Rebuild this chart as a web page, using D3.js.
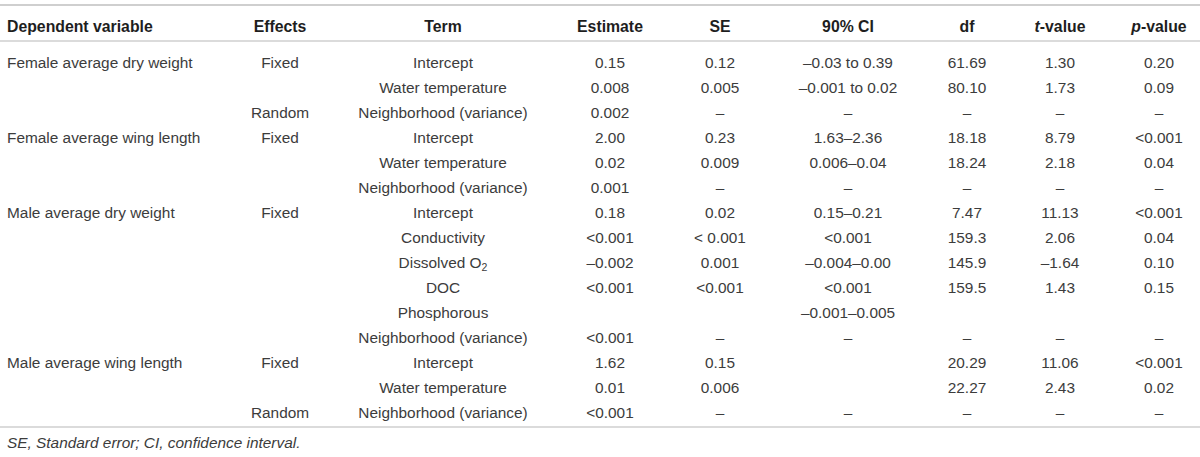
<!DOCTYPE html>
<html>
<head>
<meta charset="utf-8">
<script src="https://cdn.jsdelivr.net/npm/d3@7"></script>
<style>
  html, body { margin: 0; padding: 0; background: #fff; }
  svg { display: block; }
</style>
</head>
<body>
<svg id="chart" width="1200" height="457"></svg>
<script>
// ---- Data ----
const columns = ["Dependent variable", "Effects", "Term", "Estimate", "SE", "90% CI", "df", "t-value", "p-value"];
const dependentVariable = ["Female average dry weight", "", "", "Female average wing length", "", "", "Male average dry weight", "", "", "", "", "", "Male average wing length", "", ""];
const effects = ["Fixed", "", "Random", "Fixed", "", "", "Fixed", "", "", "", "", "", "Fixed", "", "Random"];
const terms = ["Intercept", "Water temperature", "Neighborhood (variance)", "Intercept", "Water temperature", "Neighborhood (variance)", "Intercept", "Conductivity", "Dissolved O2", "DOC", "Phosphorous", "Neighborhood (variance)", "Intercept", "Water temperature", "Neighborhood (variance)"];
const estimates = ["0.15", "0.008", "0.002", "2.00", "0.02", "0.001", "0.18", "<0.001", "–0.002", "<0.001", "", "<0.001", "1.62", "0.01", "<0.001"];
const se = ["0.12", "0.005", "–", "0.23", "0.009", "–", "0.02", "< 0.001", "0.001", "<0.001", "", "–", "0.15", "0.006", "–"];
const ci90 = ["–0.03 to 0.39", "–0.001 to 0.02", "–", "1.63–2.36", "0.006–0.04", "–", "0.15–0.21", "<0.001", "–0.004–0.00", "<0.001", "–0.001–0.005", "–", "", "", "–"];
const df = ["61.69", "80.10", "–", "18.18", "18.24", "–", "7.47", "159.3", "145.9", "159.5", "", "–", "20.29", "22.27", "–"];
const tValues = ["1.30", "1.73", "–", "8.79", "2.18", "–", "11.13", "2.06", "–1.64", "1.43", "", "–", "11.06", "2.43", "–"];
const pValues = ["0.20", "0.09", "–", "<0.001", "0.04", "–", "<0.001", "0.04", "0.10", "0.15", "", "–", "<0.001", "0.02", "–"];
const footnote = "SE, Standard error; CI, confidence interval.";

const series = [dependentVariable, effects, terms, estimates, se, ci90, df, tValues, pValues];

// ---- Layout ----
const svg = d3.select("#chart");
const W = 1200;
const textColor = "#3c3c3c";
const headColor = "#1e1e1e";
const ruleColor = "#cfcfcf";
const font = "'Liberation Sans', Arial, Helvetica, sans-serif";

const colX = d3.scaleOrdinal()
  .domain(columns)
  .range([7, 280, 443, 610, 720, 848, 967, 1060, 1159]);
const colAnchor = c => c === columns[0] ? "start" : "middle";

const rowY = d3.scaleBand()
  .domain(d3.range(terms.length))
  .range([49.5, 424.5]);

// rules
[[5, 2], [41, 1.6], [427, 1.6]].forEach(([y, w]) => {
  svg.append("line")
    .attr("x1", 0).attr("x2", W)
    .attr("y1", y).attr("y2", y)
    .attr("stroke", ruleColor).attr("stroke-width", w);
});

// header
const head = svg.append("g").attr("font-family", font).attr("font-size", 15.8)
  .attr("font-weight", "bold").attr("fill", headColor);
columns.forEach(c => {
  const t = head.append("text")
    .attr("x", colX(c)).attr("y", 26).attr("dy", "0.36em")
    .attr("text-anchor", colAnchor(c));
  if (c === "t-value" || c === "p-value") {
    t.append("tspan").attr("font-style", "italic").text(c[0]);
    t.append("tspan").text(c.slice(1));
  } else {
    t.text(c);
  }
});

// body
const body = svg.append("g").attr("font-family", font).attr("font-size", 15.4).attr("fill", textColor);
columns.forEach((c, ci) => {
  const vals = series[ci];
  body.selectAll(null)
    .data(vals.map((v, i) => ({ v, i })).filter(d => d.v !== ""))
    .join("text")
    .attr("x", colX(c))
    .attr("y", d => rowY(d.i) + rowY.bandwidth() / 2)
    .attr("dy", "0.36em")
    .attr("text-anchor", colAnchor(c))
    .each(function (d) {
      const t = d3.select(this);
      if (d.v === "Dissolved O2") {
        t.append("tspan").text("Dissolved O");
        t.append("tspan").attr("font-size", 10.5).attr("dy", "0.3em").text("2");
      } else {
        t.text(d.v);
      }
    });
});

// footnote
svg.append("text")
  .attr("x", 7).attr("y", 442).attr("dy", "0.36em")
  .attr("font-family", font).attr("font-size", 15.4)
  .attr("font-style", "italic").attr("fill", textColor)
  .text(footnote);
</script>
</body>
</html>
